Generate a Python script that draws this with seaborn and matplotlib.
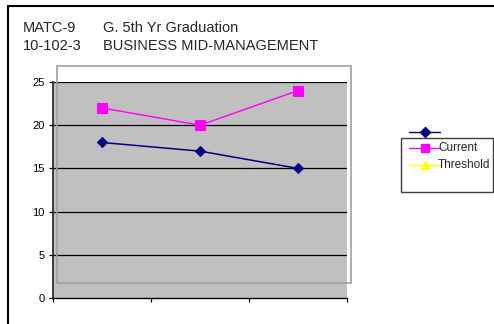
import matplotlib
matplotlib.use("Agg")
import matplotlib.pyplot as plt
from matplotlib.lines import Line2D
from matplotlib.patches import Rectangle
import pandas as pd
import seaborn as sns

# Yearly graduation figures
periods = [1, 2, 3]
unnamed_series = [18, 17, 15]
current = [22, 20, 24]
y_ticks = [0, 5, 10, 15, 20, 25]

sns.set_theme(style="white")
plt.rcParams["font.family"] = ["Liberation Sans", "DejaVu Sans"]

W, H = 494, 324
fig = plt.figure(figsize=(W / 100, H / 100), dpi=100)
fig.patch.set_facecolor("white")


def fx(px):
    return px / W


def fy(py):
    return 1 - py / H


ax = fig.add_axes([fx(53), fy(298), fx(347) - fx(53), fy(82) - fy(298)])
ax.set_facecolor("#c0c0c0")

df = pd.DataFrame({"period": periods * 2,
                   "value": unnamed_series + current,
                   "series": ["A"] * 3 + ["Current"] * 3})

sns.lineplot(data=df[df.series == "A"], x="period", y="value", ax=ax,
             color="#000080", marker="D", markersize=5, linewidth=1.1,
             markeredgecolor="#000080", legend=False, zorder=4)
sns.lineplot(data=df[df.series == "Current"], x="period", y="value", ax=ax,
             color="#ff00ff", marker="s", markersize=6.5, linewidth=1.0,
             markeredgecolor="#ff00ff", legend=False, zorder=4)

ax.set_xlim(0.5, 3.5)
ax.set_ylim(0, 25)
ax.set_yticks(y_ticks)
ax.set_yticklabels([str(t) for t in y_ticks], fontsize=8, color="black")
ax.set_xticks([0.5, 1.5, 2.5, 3.5])
ax.set_xticklabels([])
ax.set_xlabel("")
ax.set_ylabel("")
for t in y_ticks[1:]:
    ax.axhline(t, color="black", linewidth=0.9, zorder=2)
ax.tick_params(axis="both", direction="out", length=3, width=0.9,
               color="black", left=True, bottom=True, pad=3)
for s in ["top", "right"]:
    ax.spines[s].set_visible(False)
ax.spines["left"].set_color("#202020")
ax.spines["left"].set_linewidth(1.2)
ax.spines["bottom"].set_color("black")
ax.spines["bottom"].set_linewidth(1.0)

# plot area frame
fig.patches.append(Rectangle((fx(57), fy(283)), fx(351) - fx(57), fy(66) - fy(283),
                             transform=fig.transFigure, fill=False,
                             edgecolor="#a0a0a0", linewidth=1.2, zorder=5))

# chart border
fig.lines.append(Line2D([fx(8), fx(8)], [fy(6), fy(330)], transform=fig.transFigure,
                        color="black", linewidth=1.5))
fig.lines.append(Line2D([fx(8), fx(500)], [fy(6), fy(6)], transform=fig.transFigure,
                        color="black", linewidth=1.5))

# titles
title_size = 10.5
fig.text(fx(23), fy(32), "MATC-9", fontsize=title_size, va="baseline", ha="left")
fig.text(fx(103), fy(32), "G. 5th Yr Graduation", fontsize=title_size, va="baseline", ha="left")
fig.text(fx(23), fy(50), "10-102-3", fontsize=title_size, va="baseline", ha="left")
fig.text(fx(103), fy(50), "BUSINESS MID-MANAGEMENT", fontsize=title_size, va="baseline", ha="left")

# legend
fig.patches.append(Rectangle((fx(401), fy(192)), fx(493) - fx(401), fy(138) - fy(192),
                             transform=fig.transFigure, fill=False,
                             edgecolor="#404040", linewidth=1.0))
legend_rows = [(132, "#000080", "D", 5, ""),
               (148, "#ff00ff", "s", 6, "Current"),
               (165, "#ffff00", "^", 6, "Threshold")]
for py, col, mk, ms, label in legend_rows:
    fig.lines.append(Line2D([fx(409), fx(440)], [fy(py), fy(py)], transform=fig.transFigure,
                            color=col, linewidth=1.0))
    fig.lines.append(Line2D([fx(424.5)], [fy(py)], transform=fig.transFigure,
                            color=col, marker=mk, markersize=ms, markeredgecolor=col))
    if label:
        fig.text(fx(438), fy(py), label, fontsize=8.5, va="center", ha="left")

fig.savefig("out.png", dpi=100, facecolor="white")
